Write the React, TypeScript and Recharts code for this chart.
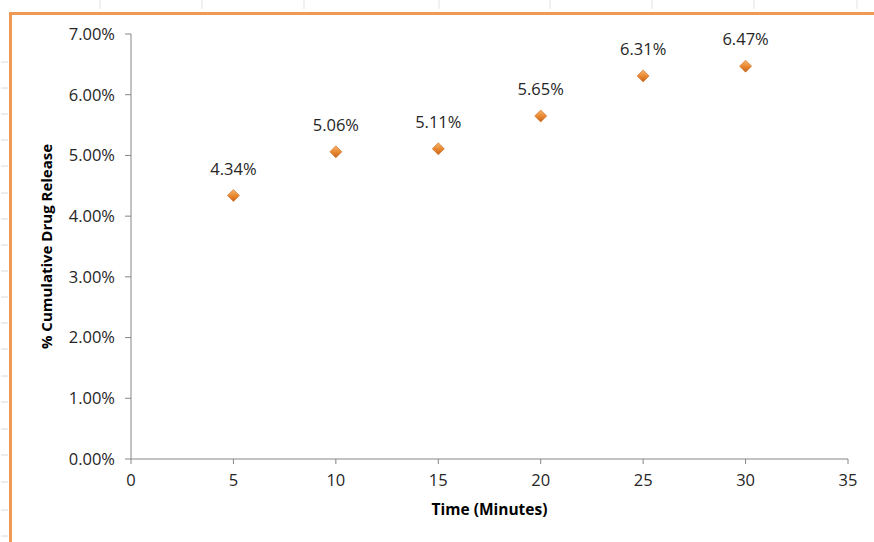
import React from 'react';
import { ScatterChart, Scatter, XAxis, YAxis } from 'recharts';

// release study: minutes vs cumulative fraction released
const minutes = [5, 10, 15, 20, 25, 30];
const released = [0.0434, 0.0506, 0.0511, 0.0565, 0.0631, 0.0647];
const xTicks = [0, 5, 10, 15, 20, 25, 30, 35];
const yTicks = [0, 0.01, 0.02, 0.03, 0.04, 0.05, 0.06, 0.07];

// faint page ruler marks around the frame
const topRuler = [100, 202, 304, 439, 550, 652, 754, 857];
const leftRuler = [62, 88, 114, 140, 166, 193, 219, 245, 271, 297, 323, 349, 376, 402, 429, 455, 482, 510, 536];

const data = minutes.map((m, i) => ({ time: m, release: released[i] }));

const FONT = '"Open Sans", "Noto Sans", sans-serif';
const pct = (v: number) => `${(v * 100).toFixed(2)}%`;

const DiamondWithLabel = (props: any) => {
  const { cx, cy, payload } = props;
  const r = 6;
  return (
    <g>
      <path
        d={`M${cx},${cy - r} L${cx + r},${cy} L${cx},${cy + r} L${cx - r},${cy} Z`}
        fill="url(#markerFill)"
        stroke="#C9691C"
        strokeWidth={0.6}
      />
      <text
        x={cx}
        y={cy - 21}
        textAnchor="middle"
        fontFamily={FONT}
        fontSize={16.5}
        fill="#262626"
      >
        {pct(payload.release)}
      </text>
    </g>
  );
};

export default function App() {
  return (
    <div style={{ position: 'absolute', left: 0, top: 0, width: 874, height: 542, background: '#fff', overflow: 'hidden' }}>
      <svg width={874} height={542} style={{ position: 'absolute', left: 0, top: 0 }}>
        {topRuler.map((x) => (
          <line key={`t${x}`} x1={x} x2={x} y1={0} y2={9} stroke="#E3E3E3" strokeWidth={1} />
        ))}
        {leftRuler.map((y) => (
          <line key={`l${y}`} x1={1} x2={8} y1={y} y2={y} stroke="#DADADA" strokeWidth={1} />
        ))}
        <rect x={10.5} y={13.5} width={900} height={600} fill="none" stroke="#EE9A56" strokeWidth={3} />
      </svg>
      <div style={{ position: 'absolute', left: 0, top: 0 }}>
        <ScatterChart
          width={874}
          height={542}
          margin={{ top: 34, right: 26, left: 71, bottom: 53 }}
        >
          <defs>
            <linearGradient id="markerFill" x1="0" y1="0" x2="0" y2="1">
              <stop offset="0%" stopColor="#F7B56E" />
              <stop offset="55%" stopColor="#E8862E" />
              <stop offset="100%" stopColor="#C4621A" />
            </linearGradient>
          </defs>
          <XAxis
            type="number"
            dataKey="time"
            domain={[0, 35]}
            ticks={xTicks}
            interval={0}
            height={30}
            stroke="#868686"
            tickSize={5}
            tickMargin={10}
            tick={{ fill: '#262626', fontSize: 16.5, fontFamily: FONT }}
            label={{
              value: 'Time (Minutes)',
              position: 'insideBottom',
              offset: -26,
              style: { fill: '#000', fontSize: 15.5, fontWeight: 700, fontFamily: FONT },
            }}
          />
          <YAxis
            type="number"
            dataKey="release"
            domain={[0, 0.07]}
            ticks={yTicks}
            interval={0}
            width={60}
            stroke="#868686"
            tickSize={6}
            tickMargin={10}
            tickFormatter={pct}
            tick={{ fill: '#262626', fontSize: 16.5, fontFamily: FONT }}
            label={{
              value: '% Cumulative Drug Release',
              angle: -90,
              position: 'insideLeft',
              offset: -24,
              style: { textAnchor: 'middle', fill: '#000', fontSize: 15, fontWeight: 700, fontFamily: FONT },
            }}
          />
          <Scatter data={data} shape={<DiamondWithLabel />} isAnimationActive={false} />
        </ScatterChart>
      </div>
    </div>
  );
}
